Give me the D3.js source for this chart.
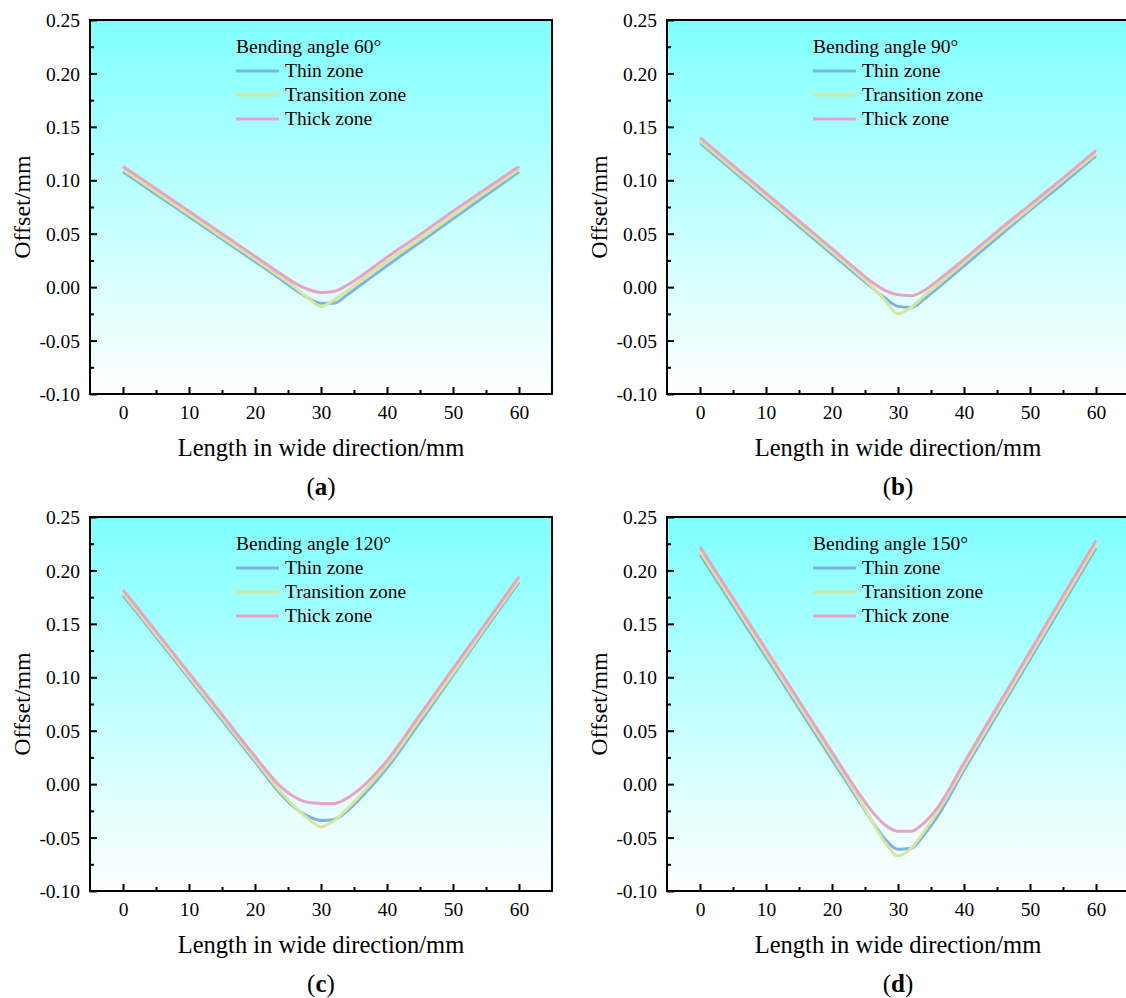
<!DOCTYPE html>
<html>
<head>
<meta charset="utf-8">
<script src="https://cdn.jsdelivr.net/npm/d3@7/dist/d3.min.js"></script>
<style>
  html, body { margin: 0; padding: 0; background: #fff; }
  svg, svg text { font-family: "Liberation Serif", "Times New Roman", serif !important; }
  svg { display: block; }
</style>
</head>
<body>
<svg id="chart" width="1126" height="998"></svg>
<script>
// Sample positions across the width (mm)
const positions = [0, 5, 10, 15, 20, 24, 26, 28, 30, 32, 34, 36, 40, 45, 50, 55, 60];

// Offset (mm) per zone for each bending angle
const thin60  = [0.108, 0.087, 0.066, 0.045, 0.024, 0.007, -0.002, -0.010, -0.015, -0.015, -0.007, 0.002, 0.020, 0.042, 0.064, 0.086, 0.108];
const trans60 = [0.110, 0.089, 0.068, 0.047, 0.026, 0.009, 0.000, -0.010, -0.018, -0.012, -0.003, 0.006, 0.024, 0.045, 0.067, 0.089, 0.110];
const thick60 = [0.113, 0.092, 0.071, 0.050, 0.029, 0.012, 0.004, -0.002, -0.005, -0.004, 0.002, 0.010, 0.028, 0.049, 0.071, 0.092, 0.113];

const thin90  = [0.135, 0.109, 0.083, 0.057, 0.031, 0.010, 0.000, -0.010, -0.018, -0.019, -0.011, -0.001, 0.020, 0.046, 0.072, 0.097, 0.123];
const trans90 = [0.137, 0.111, 0.085, 0.059, 0.033, 0.012, 0.001, -0.012, -0.025, -0.019, -0.008, 0.002, 0.023, 0.049, 0.074, 0.100, 0.125];
const thick90 = [0.140, 0.114, 0.088, 0.062, 0.036, 0.015, 0.005, -0.003, -0.007, -0.008, -0.003, 0.006, 0.026, 0.052, 0.077, 0.102, 0.128];

const thin120  = [0.177, 0.138, 0.099, 0.060, 0.021, -0.010, -0.022, -0.030, -0.034, -0.033, -0.025, -0.013, 0.015, 0.058, 0.102, 0.146, 0.189];
const trans120 = [0.179, 0.140, 0.101, 0.062, 0.023, -0.008, -0.021, -0.032, -0.040, -0.034, -0.023, -0.010, 0.018, 0.061, 0.104, 0.148, 0.191];
const thick120 = [0.182, 0.143, 0.104, 0.065, 0.026, -0.003, -0.012, -0.017, -0.018, -0.018, -0.013, -0.004, 0.022, 0.065, 0.108, 0.151, 0.194];

const thin150  = [0.215, 0.167, 0.119, 0.071, 0.023, -0.015, -0.034, -0.051, -0.061, -0.060, -0.047, -0.030, 0.013, 0.065, 0.117, 0.169, 0.221];
const trans150 = [0.218, 0.170, 0.122, 0.074, 0.026, -0.013, -0.034, -0.054, -0.067, -0.060, -0.044, -0.026, 0.016, 0.068, 0.120, 0.172, 0.224];
const thick150 = [0.222, 0.174, 0.126, 0.078, 0.030, -0.008, -0.025, -0.038, -0.044, -0.044, -0.036, -0.022, 0.020, 0.072, 0.124, 0.176, 0.228];

const zoneNames = ["Thin zone", "Transition zone", "Thick zone"];
const zoneColors = ["#7db4e6", "#d6e69a", "#e8a2c8"];
const angles = [60, 90, 120, 150];
const panelLetters = ["a", "b", "c", "d"];

const xTicks = [0, 10, 20, 30, 40, 50, 60];
const xMinor = [5, 15, 25, 35, 45, 55];
const yTicks = [-0.10, -0.05, 0.00, 0.05, 0.10, 0.15, 0.20, 0.25];
const yMinor = [-0.075, -0.025, 0.025, 0.075, 0.125, 0.175, 0.225];

const panels = [
  { series: [thin60, trans60, thick60] },
  { series: [thin90, trans90, thick90] },
  { series: [thin120, trans120, thick120] },
  { series: [thin150, trans150, thick150] }
];

const FONT = '"Liberation Serif", "Times New Roman", serif';
const svg = d3.select("#chart");
const W = 462, H = 374;
const origins = [[90, 20], [667, 20], [90, 517], [667, 517]];

const defs = svg.append("defs");
const grad = defs.append("linearGradient")
  .attr("id", "bg").attr("x1", 0).attr("y1", 0).attr("x2", 0).attr("y2", 1);
grad.append("stop").attr("offset", "0%").attr("stop-color", "#80ffff");
grad.append("stop").attr("offset", "100%").attr("stop-color", "#ffffff");

const x = d3.scaleLinear().domain([-5, 65]).range([0, W]);
const y = d3.scaleLinear().domain([-0.10, 0.25]).range([H, 0]);

panels.forEach((p, i) => {
  const [ox, oy] = origins[i];
  const g = svg.append("g").attr("transform", `translate(${ox},${oy})`)
    .style("font-family", FONT);

  g.append("rect").attr("width", W).attr("height", H).attr("fill", "url(#bg)");

  const line = d3.line()
    .x((d, k) => x(positions[k]))
    .y(d => y(d))
    .curve(d3.curveMonotoneX);

  p.series.forEach((vals, s) => {
    g.append("path")
      .datum(vals)
      .attr("d", line)
      .attr("fill", "none")
      .attr("stroke", zoneColors[s])
      .attr("stroke-width", 3)
      .attr("stroke-linejoin", "round");
  });

  // frame
  g.append("rect").attr("width", W).attr("height", H)
    .attr("fill", "none").attr("stroke", "#000").attr("stroke-width", 2);

  // left axis, ticks pointing inward
  const yAxis = g.append("g");
  yAxis.call(d3.axisLeft(y).tickValues(yTicks).tickSize(-7).tickFormat(d3.format(".2f")))
    .call(a => a.select(".domain").remove())
    .attr("font-family", null).attr("font-size", null);
  yAxis.selectAll(".tick line").attr("stroke", "#000").attr("stroke-width", 2);
  yAxis.selectAll(".tick text")
    .attr("x", -10).attr("dy", "0.34em")
    .style("font-size", "19.5px").style("font-family", FONT).attr("fill", "#000")
    .text(d => d3.format(".2f")(d).replace("\u2212", "-"));
  const yMin = g.append("g");
  yMin.call(d3.axisLeft(y).tickValues(yMinor).tickSize(-4).tickFormat(""))
    .call(a => a.select(".domain").remove());
  yMin.selectAll(".tick line").attr("stroke", "#000").attr("stroke-width", 2);

  // bottom axis, ticks pointing inward
  const xAxis = g.append("g").attr("transform", `translate(0,${H})`);
  xAxis.call(d3.axisBottom(x).tickValues(xTicks).tickSize(-7))
    .call(a => a.select(".domain").remove())
    .attr("font-family", null).attr("font-size", null);
  xAxis.selectAll(".tick line").attr("stroke", "#000").attr("stroke-width", 2);
  xAxis.selectAll(".tick text")
    .attr("y", 25).attr("dy", 0)
    .style("font-size", "19.5px").style("font-family", FONT).attr("fill", "#000");
  const xMin = g.append("g").attr("transform", `translate(0,${H})`);
  xMin.call(d3.axisBottom(x).tickValues(xMinor).tickSize(-4).tickFormat(""))
    .call(a => a.select(".domain").remove());
  xMin.selectAll(".tick line").attr("stroke", "#000").attr("stroke-width", 2);

  // axis titles
  g.append("text")
    .attr("x", W / 2).attr("y", H + 62)
    .attr("text-anchor", "middle").style("font-size", "24.5px")
    .text("Length in wide direction/mm");
  g.append("text")
    .attr("transform", `translate(${-60},${H / 2}) rotate(-90)`)
    .attr("text-anchor", "middle").style("font-size", "24px")
    .text("Offset/mm");

  // panel label
  const lab = g.append("text")
    .attr("x", W / 2).attr("y", H + 101)
    .attr("text-anchor", "middle").style("font-size", "25px");
  lab.append("tspan").text("(");
  lab.append("tspan").attr("font-weight", "bold").text(panelLetters[i]);
  lab.append("tspan").text(")");

  // legend
  const lg = g.append("g").attr("transform", "translate(146,0)");
  lg.append("text").attr("x", 0).attr("y", 33).style("font-size", "19.5px")
    .text(`Bending angle ${angles[i]}°`);
  zoneNames.forEach((nm, s) => {
    const ly = 51 + s * 24;
    lg.append("line").attr("x1", 0).attr("x2", 43).attr("y1", ly).attr("y2", ly)
      .attr("stroke", zoneColors[s]).attr("stroke-width", 3);
    lg.append("text").attr("x", 49).attr("y", ly + 6).style("font-size", "19.5px").text(nm);
  });
});
</script>
</body>
</html>
